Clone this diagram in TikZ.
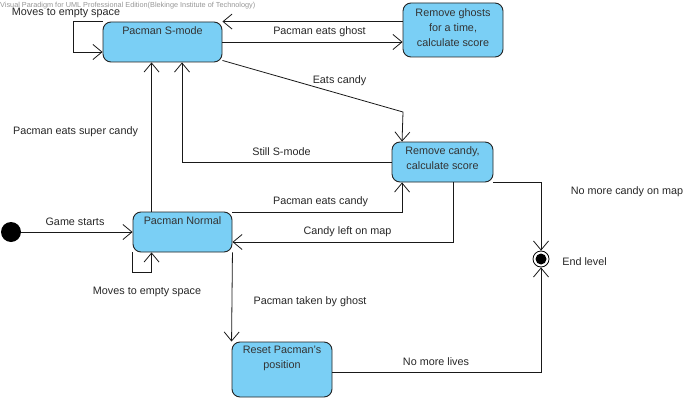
\documentclass[tikz,border=0pt]{standalone}
\usepackage{fontspec}
\setmainfont{Liberation Sans}
\usetikzlibrary{arrows.meta,calc}
\definecolor{statefill}{RGB}{122,207,245}
\definecolor{stateline}{RGB}{35,35,35}
\definecolor{wmark}{RGB}{150,150,150}
\begin{document}
\begin{tikzpicture}[x=1pt,y=-1pt,
  font=\fontsize{10.8}{15}\selectfont,
  statebox/.style={draw=stateline, fill=statefill, rounded corners=8pt, line width=0.9pt, inner sep=0pt},
  stxt/.style={inner sep=0pt, text=black!80, align=center, yshift=-1pt},
  lbl/.style={inner sep=0pt, text=black!85, yshift=-1.5pt},
  flow/.style={draw=black!90, line width=0.8pt, -{Straight Barb[length=9pt,width=15pt,line width=0.8pt]}}]
\useasboundingbox (0,0) rectangle (700,401);

% watermark
\node[anchor=west, inner sep=0pt, text=wmark, font=\fontsize{7.3}{9}\selectfont] (wm) at (0,5.5) {Visual Paradigm for UML Professional Edition(Blekinge Institute of Technology)};

% states
\node[statebox, minimum width=119pt, minimum height=40pt] (smode) at (162.5,42) {};
\node[stxt] (smodet) at (162.5,30) {Pacman S-mode};
\node[statebox, minimum width=100pt, minimum height=54pt] (ghosts) at (453,30) {};
\node[stxt] (ghostst) at (453,27) {Remove ghosts\\for a time,\\calculate score};
\node[statebox, minimum width=101pt, minimum height=40pt] (candy) at (442.5,162) {};
\node[stxt] (candyt) at (442.5,157.5) {Remove candy,\\calculate score};
\node[statebox, minimum width=99pt, minimum height=40pt] (normal) at (182.5,232) {};
\node[stxt] (normalt) at (182.5,220) {Pacman Normal};
\node[statebox, minimum width=100pt, minimum height=55pt] (reset) at (282,369.5) {};
\node[stxt] (resett) at (282,357.5) {Reset Pacman's\\position};

% initial and final
\node[circle, fill=black, minimum size=20pt, inner sep=0pt] (init) at (11,232) {};
\node[circle, draw=black, line width=0.8pt, fill=white, minimum size=16pt, inner sep=0pt] (final) at (541,259) {};
\node[circle, fill=black, minimum size=11pt, inner sep=0pt] (finalin) at (541,259) {};

% transitions
\draw[flow] (smode.north west) -- ++(-29,0) |- ($(smode.west)+(0,10)$);
\draw[flow] (smode.east) -- (smode.east -| ghosts.west);
\draw[flow] (ghosts.west |- smode.north) -- (smode.north east);
\draw[flow] ($(smode.south east)+(0,-2)$) -- (403,112) -- ($(candy.north west)+(10.5,0)$);
\draw[flow] (candy.west) -| ($(smode.south)+(19.5,0)$);
\draw[flow] ($(normal.north west)+(19,0)$) -- ($(smode.south west)+(49,0)$);
\draw[flow] (init) -- (normal.west);
\draw[flow] (normal.south west) -- ++(0,20) -| ($(normal.south west)+(19,0)$);
\draw[flow] ($(normal.north east)+(0,1)$) -| ($(candy.south west)+(10.5,0)$);
\draw[flow] ($(candy.south)+(10.5,0)$) |- ($(normal.east)+(0,10)$);
\draw[flow] (normal.south east) -- (reset.north west);
\draw[flow] ($(reset.east)+(0,2.5)$) -| (final.south);
\draw[flow] (candy.south east) -| (final.north);

% labels
\node[lbl] (l1) at (66,11) {Moves to empty space};
\node[lbl] (l2) at (319.5,30) {Pacman eats ghost};
\node[lbl] (l3) at (339.5,79) {Eats candy};
\node[lbl] (l4) at (75.5,130) {Pacman eats super candy};
\node[lbl] (l5) at (281.5,150) {Still S-mode};
\node[lbl] (l6) at (320.5,200) {Pacman eats candy};
\node[lbl] (l7) at (347.5,230) {Candy left on map};
\node[lbl] (l8) at (75,220) {Game starts};
\node[lbl] (l9) at (147,290) {Moves to empty space};
\node[lbl] (l10) at (310,300) {Pacman taken by ghost};
\node[lbl] (l11) at (436,360) {No more lives};
\node[lbl] (l12) at (627,190) {No more candy on map};
\node[lbl] (l13) at (584.5,260) {End level};
\end{tikzpicture}
\end{document}
